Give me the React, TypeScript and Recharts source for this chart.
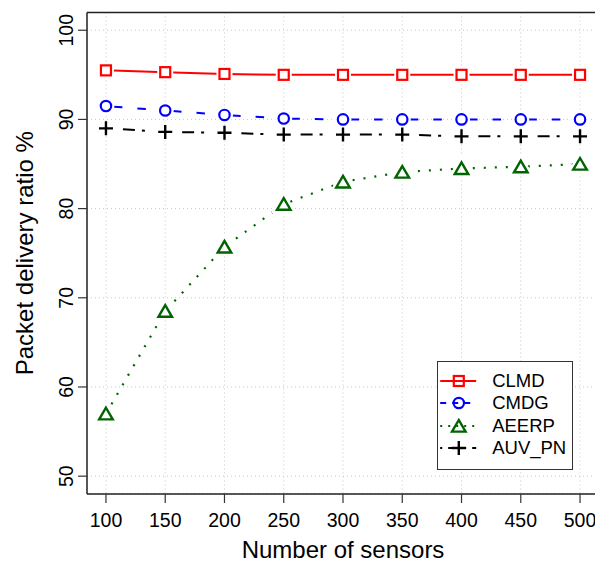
import { LineChart, Line, XAxis, YAxis, CartesianGrid, Legend, ReferenceLine } from 'recharts';

const sensors = [100, 150, 200, 250, 300, 350, 400, 450, 500];
const clmd = [95.5, 95.3, 95.1, 95.0, 95.0, 95.0, 95.0, 95.0, 95.0];
const cmdg = [91.5, 91.0, 90.5, 90.1, 90.0, 90.0, 90.0, 90.0, 90.0];
const aeerp = [57.0, 68.5, 75.7, 80.5, 83.0, 84.1, 84.5, 84.7, 85.0];
const auvPn = [89.0, 88.6, 88.5, 88.3, 88.3, 88.3, 88.1, 88.1, 88.1];

const xTicks = [100, 150, 200, 250, 300, 350, 400, 450, 500];
const yTicks = [50, 60, 70, 80, 90, 100];

const data = sensors.map((s, i) => ({
  sensors: s,
  CLMD: clmd[i],
  CMDG: cmdg[i],
  AEERP: aeerp[i],
  AUV_PN: auvPn[i],
}));

const FONT = '"Liberation Sans", Arial, Helvetica, sans-serif';

type Kind = 'square' | 'circle' | 'triangle' | 'plus';

const series: { key: string; kind: Kind; color: string; dash?: string; legendDash?: string; width: number }[] = [
  { key: 'CLMD', kind: 'square', color: '#ff0000', width: 2 },
  { key: 'CMDG', kind: 'circle', color: '#0000ff', dash: '0 8 8.5 15 8.5 19.26', legendDash: '6 6', width: 2 },
  { key: 'AEERP', kind: 'triangle', color: '#006400', dash: '2 9', legendDash: '2 6', width: 2.2 },
  { key: 'AUV_PN', kind: 'plus', color: '#000000', dash: '0 17 12 7 3 20.26', legendDash: '2 6 10 6', width: 2 },
];

function Marker({ kind, cx, cy, color, halo }: { kind: Kind; cx: number; cy: number; color: string; halo: boolean }) {
  if (cx == null || cy == null) return null;
  const fill = halo ? '#fff' : 'none';
  if (kind === 'square') {
    return (
      <g>
        {halo && <rect x={cx - 8} y={cy - 8} width={16} height={16} fill="#fff" />}
        <rect x={cx - 5} y={cy - 5} width={10} height={10} fill={fill} stroke={color} strokeWidth={2.2} />
      </g>
    );
  }
  if (kind === 'circle') {
    return (
      <g>
        {halo && <circle cx={cx} cy={cy} r={8.5} fill="#fff" />}
        <circle cx={cx} cy={cy} r={5.2} fill={fill} stroke={color} strokeWidth={2.2} />
      </g>
    );
  }
  if (kind === 'triangle') {
    const pts = `${cx},${cy - 6} ${cx + 6.8},${cy + 5.6} ${cx - 6.8},${cy + 5.6}`;
    return (
      <g>
        {halo && <polygon points={pts} fill="#fff" stroke="#fff" strokeWidth={7} />}
        <polygon points={pts} fill={fill} stroke={color} strokeWidth={2.4} strokeLinejoin="miter" />
      </g>
    );
  }
  const d = `M${cx - 7},${cy} H${cx + 7} M${cx},${cy - 7} V${cy + 7}`;
  return (
    <g>
      {halo && <path d={`M${cx - 10},${cy} H${cx + 10}`} stroke="#fff" strokeWidth={6} />}
      <path d={d} stroke={color} strokeWidth={2.4} fill="none" />
    </g>
  );
}

const XTick = (p: any) => (
  <text x={p.x} y={p.y + 24} textAnchor="middle" fontFamily={FONT} fontSize={19.5} fill="#000">
    {p.payload.value}
  </text>
);

const YTick = (p: any) => {
  const x = p.x - 4.5;
  return (
    <text x={x} y={p.y} transform={`rotate(-90 ${x} ${p.y})`} textAnchor="middle" fontFamily={FONT} fontSize={19.5} fill="#000">
      {p.payload.value}
    </text>
  );
};

const XTitle = (props: any) => {
  const vb = props.viewBox;
  return (
    <text x={vb.x + vb.width / 2} y={vb.y + 64} textAnchor="middle" fontFamily={FONT} fontSize={24} fill="#000">
      Number of sensors
    </text>
  );
};

const YTitle = (props: any) => {
  const vb = props.viewBox;
  const x = vb.x + 33;
  const y = vb.y + vb.height / 2;
  return (
    <text x={x} y={y} transform={`rotate(-90 ${x} ${y})`} textAnchor="middle" fontFamily={FONT} fontSize={24} fill="#000">
      Packet delivery ratio %
    </text>
  );
};

const renderLegend = () => (
  <div
    style={{
      width: 136,
      height: 109,
      boxSizing: 'border-box',
      border: '1.5px solid #333',
      background: '#fff',
      paddingTop: 8.2,
      fontFamily: FONT,
      fontSize: 18.5,
      color: '#000',
    }}
  >
    {series.map((s) => (
      <div key={s.key} style={{ display: 'flex', alignItems: 'center', height: 22.2 }}>
        <svg width={52} height={22} style={{ display: 'block' }}>
          <line x1={2.2} x2={38.2} y1={11} y2={11} stroke={s.color} strokeWidth={2} strokeDasharray={s.legendDash} />
          <Marker kind={s.kind} cx={20.8} cy={11} color={s.color} halo={false} />
        </svg>
        <span style={{ marginLeft: 2.2, lineHeight: '22px' }}>{s.key}</span>
      </div>
    ))}
  </div>
);

export default function App() {
  return (
    <div style={{ position: 'absolute', left: 0, top: 0, width: 595, height: 563, overflow: 'hidden', background: '#fff' }}>
      <LineChart width={600} height={563} data={data} margin={{ top: 12.4, right: 1, bottom: 0, left: 0 }}>
        <CartesianGrid stroke="#c8c8c8" strokeDasharray="1 3" strokeWidth={1} />
        <XAxis
          dataKey="sensors"
          type="number"
          domain={[84, 516]}
          ticks={xTicks}
          interval={0}
          height={69}
          tickSize={9}
          tickMargin={0}
          tick={XTick}
          tickLine={{ stroke: '#333', strokeWidth: 1.2 }}
          axisLine={{ stroke: '#222', strokeWidth: 1.5 }}
          label={XTitle}
          allowDataOverflow
        />
        <YAxis
          type="number"
          domain={[48, 102]}
          ticks={yTicks}
          interval={0}
          width={87}
          tickSize={9}
          tickMargin={0}
          tick={YTick}
          tickLine={{ stroke: '#333', strokeWidth: 1.2 }}
          axisLine={{ stroke: '#222', strokeWidth: 1.5 }}
          label={YTitle}
          allowDataOverflow
        />
        <ReferenceLine y={102} stroke="#222" strokeWidth={1.5} />
        <ReferenceLine x={516} stroke="#222" strokeWidth={1.5} />
        {series.map((s) => (
          <Line
            key={s.key}
            type="linear"
            dataKey={s.key}
            stroke={s.color}
            strokeWidth={s.width}
            strokeDasharray={s.dash}
            isAnimationActive={false}
            activeDot={false}
            legendType="none"
            dot={(p: any) => <Marker key={`${s.key}-${p.index}`} kind={s.kind} cx={p.cx} cy={p.cy} color={s.color} halo={true} />}
          />
        ))}
        <Legend
          layout="vertical"
          align="center"
          verticalAlign="middle"
          content={renderLegend}
          wrapperStyle={{ left: 437, top: 361, width: 136, height: 109 }}
        />
      </LineChart>
    </div>
  );
}
